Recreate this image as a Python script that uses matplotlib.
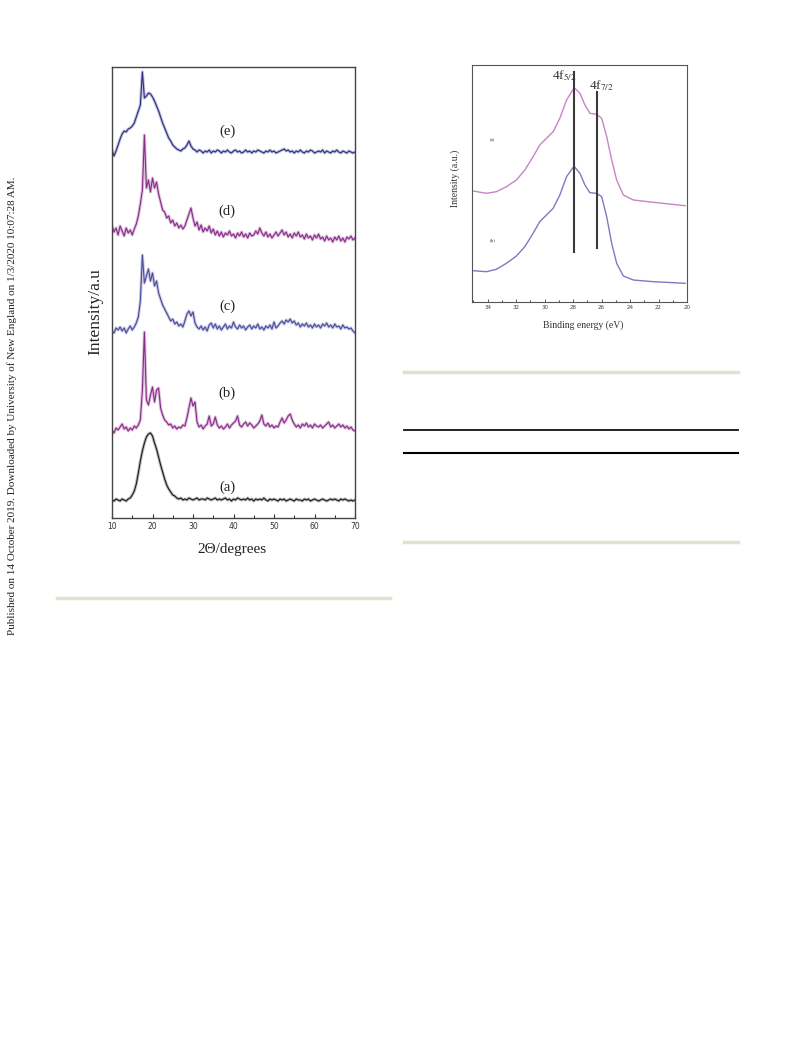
import numpy as np
import matplotlib
matplotlib.use("Agg")
import matplotlib.pyplot as plt
from matplotlib.ticker import MultipleLocator

W, H = 793, 1039

# ---- XRD patterns (2 theta, intensity above each trace's own baseline) ----
two_theta = np.arange(10, 70.5, 0.5)

xrd_a = [1, 0, 2, 1, 0, 2, 1, 0, 2, 3, 6, 10, 17, 28, 40, 50, 58, 64, 67, 68,
         65, 58, 52, 44, 36, 29, 22, 16, 12, 9, 6, 5, 3, 2, 3, 1, 2, 1, 3, 2,
         1, 2, 3, 1, 2, 2, 1, 3, 2, 1, 2, 3, 1, 2, 1, 2, 3, 1, 2, 0, 2, 1, 3, 2,
         1, 2, 1, 3, 1, 2, 0, 2, 1, 2, 1, 3, 1, 0, 2, 1, 2, 1, 0, 2, 1, 2, 0, 1,
         2, 1, 0, 2, 1, 1, 0, 2, 1, 2, 0, 1, 2, 1, 0, 1, 2, 1, 0, 1, 2, 1, 2, 1,
         0, 2, 1, 2, 1, 0, 1, 0, 1]

xrd_b = [0, -3, 2, 0, 3, 6, 1, 3, -1, 2, 0, 4, 2, 5, 10, 40, 98, 30, 25, 35,
         43, 28, 40, 42, 22, 15, 10, 8, 5, 6, 2, 4, 1, 3, 2, 5, 4, 12, 22, 32,
         24, 28, 8, 3, 5, 1, 4, 6, 14, 4, 6, 13, 5, 2, 4, 1, 3, 6, 2, 5, 7, 9,
         14, 5, 3, 6, 8, 4, 7, 5, 2, 4, 6, 9, 15, 6, 4, 7, 3, 5, 2, 4, 3, 8, 12,
         7, 10, 14, 16, 10, 6, 3, 5, 2, 6, 4, 7, 3, 5, 2, 6, 4, 3, 5, 2, 4, 6, 8,
         3, 5, 2, 4, 6, 3, 5, 2, 4, 1, 3, 0, -1]

xrd_c = [0, -2, 3, 1, 4, 0, 3, -2, 2, 5, 1, 4, 8, 14, 30, 76, 48, 55, 62, 50,
         58, 45, 50, 38, 32, 26, 22, 18, 14, 10, 12, 7, 9, 5, 7, 4, 10, 17, 20,
         15, 19, 8, 4, 2, 5, 1, 4, 0, 6, 8, 3, 7, 2, 5, 1, 4, 7, 2, 5, 3, 9, 4,
         2, 6, 3, 5, 1, 4, 6, 2, 5, 3, 7, 2, 4, 1, 5, 3, 6, 2, 9, 3, 5, 8, 10, 7,
         11, 9, 12, 8, 10, 6, 8, 4, 7, 5, 8, 4, 6, 3, 7, 4, 6, 3, 7, 5, 8, 4, 6,
         3, 7, 4, 5, 2, 6, 3, 4, 2, 3, 0, -2]

xrd_d = [14, 8, 12, 5, 14, 9, 4, 12, 7, 10, 5, 11, 16, 24, 36, 50, 105, 52, 60,
         48, 62, 52, 58, 46, 38, 30, 28, 22, 24, 17, 20, 14, 17, 12, 15, 11, 14,
         20, 26, 32, 22, 14, 18, 10, 15, 8, 12, 9, 14, 7, 11, 5, 9, 4, 8, 3, 7,
         5, 9, 4, 6, 2, 7, 4, 8, 3, 6, 2, 7, 4, 5, 9, 6, 12, 7, 4, 8, 3, 6, 2, 5,
         8, 4, 7, 10, 5, 8, 3, 6, 2, 7, 4, 8, 3, 5, 1, 6, 2, 4, 0, 5, 2, 6, 1, 3,
         -1, 4, 0, 2, -2, 3, 0, 4, -1, 2, -2, 3, 1, 4, 0, 2]

xrd_e = [3, -3, 2, 8, 14, 19, 22, 21, 24, 25, 27, 30, 36, 42, 48, 81, 55, 57,
         60, 59, 56, 52, 47, 42, 36, 30, 25, 20, 15, 12, 8, 6, 4, 3, 2, 4, 5, 8,
         12, 7, 4, 3, 1, 3, 2, 0, 2, 1, 3, 0, 2, 1, 3, 2, 0, 2, 1, 3, 1, 0, 2, 3,
         1, 2, 0, 1, 3, 1, 2, 0, 2, 1, 3, 2, 1, 0, 2, 1, 3, 1, 2, 0, 1, 2, 3, 4,
         2, 3, 1, 2, 0, 2, 1, 3, 1, 0, 2, 1, 3, 2, 0, 1, 2, 1, 3, 0, 2, 1, 0, 2,
         1, 3, 1, 0, 2, 1, 0, 2, 1, 0, 1]

xrd_series = [xrd_a, xrd_b, xrd_c, xrd_d, xrd_e]
xrd_labels = ["(a)", "(b)", "(c)", "(d)", "(e)"]
xrd_colors = ["#1c1c1c", "#8a2a8a", "#4a4a9e", "#8a2a8a", "#2d2d84"]
xrd_offsets = [17, 88, 187, 278, 365]

# ---- XPS spectra (binding energy, intensity) ----
be_a = [35.03, 34.09, 33.39, 32.68, 31.98, 31.39, 30.81, 30.34, 29.87, 29.4,
        28.93, 28.46, 27.99, 27.87, 27.52, 27.17, 26.82, 26.35, 25.99, 25.64,
        25.29, 24.94, 24.47, 23.77, 22.36, 20.13]
xps_a = [111, 108.7, 110.3, 115.3, 122, 132, 145.3, 157, 163.7, 170.3,
         183.7, 202, 212.7, 213.7, 208.7, 197, 188.7, 187.7, 183.7, 165.3,
         142, 122, 107, 102, 99.7, 96.3]
be_b = be_a
xps_b = [31.3, 30.3, 32.7, 38.7, 46, 55.3, 68.7, 80.3, 87, 93.7,
         107, 125.3, 134.7, 134.7, 128.7, 117, 109.3, 108.7, 105.3, 85.3,
         58.7, 38.7, 26, 22, 20.3, 18.7]
peak_lines = [27.94, 26.30]
peak_names = ["4f$_{5/2}$", "4f$_{7/2}$"]

caption = ("Published on 14 October 2019. Downloaded by University of New "
           "England on 1/3/2020 10:07:28 AM.")

SERIF = ["Liberation Serif", "DejaVu Serif"]
plt.rcParams["mathtext.fontset"] = "stix"


def fx(px):
    return px / W


def fy(py):
    return 1 - py / H


fig = plt.figure(figsize=(W / 100, H / 100), dpi=100)

# left panel: XRD
ax1 = fig.add_axes([fx(112), fy(518), fx(355) - fx(112), fy(67) - fy(518)])
for vals, off, col in zip(xrd_series, xrd_offsets, xrd_colors):
    y = np.array(vals) + off
    ax1.plot(two_theta, y, color=col, lw=2.2, alpha=0.3)
    ax1.plot(two_theta, y, color=col, lw=0.8)
ax1.set_xlim(10, 70)
ax1.set_ylim(0, 451)
ax1.set_yticks([])
ax1.xaxis.set_major_locator(MultipleLocator(10))
ax1.xaxis.set_minor_locator(MultipleLocator(5))
ax1.tick_params(axis="x", which="major", direction="in", length=3,
                width=0.8, labelsize=5.5, pad=3, colors="#333333")
ax1.tick_params(axis="x", which="minor", direction="in", length=2, width=0.6)
for s in ax1.spines.values():
    s.set_color("#444444")
    s.set_linewidth(1.0)

label_py = [487, 393, 306, 211, 131]
for lab, py in zip(xrd_labels, label_py):
    fig.text(fx(227), fy(py), lab, ha="center", va="center",
             fontsize=10.5, family=SERIF, color="#222222")
fig.text(fx(232), fy(550), "2\u0398/degrees", ha="center", va="center",
         fontsize=11, family=SERIF, color="#222222")
fig.text(fx(95), fy(312), "Intensity/a.u", ha="center", va="center",
         rotation=90, fontsize=12.5, family=SERIF, color="#222222")

# right panel: XPS
ax2 = fig.add_axes([fx(472), fy(302), fx(687) - fx(472), fy(65) - fy(302)])
ax2.plot(be_a, xps_a, color="#c685c6", lw=1.0)
ax2.plot(be_b, xps_b, color="#7f78c4", lw=1.0)
line_tops = [230.3, 210.3]
line_bottoms = [50.3, 53.7]
for xv, top, bot in zip(peak_lines, line_tops, line_bottoms):
    ax2.plot([xv, xv], [bot, top], color="#3a3a3a", lw=1.5)
ax2.set_xlim(35.1, 20)
ax2.set_ylim(0, 237)
ax2.set_yticks([])
ax2.xaxis.set_major_locator(MultipleLocator(2))
ax2.xaxis.set_minor_locator(MultipleLocator(1))
ax2.tick_params(axis="x", which="major", direction="in", length=2.5,
                width=0.6, labelsize=4, pad=2, colors="#444444")
ax2.tick_params(axis="x", which="minor", direction="in", length=1.5, width=0.5)
for s in ax2.spines.values():
    s.set_color("#555555")
    s.set_linewidth(0.8)

fig.text(fx(564), fy(76), peak_names[0], ha="center", va="center",
         fontsize=9.5, family=SERIF, color="#333333")
fig.text(fx(601), fy(86), peak_names[1], ha="center", va="center",
         fontsize=9.5, family=SERIF, color="#333333")
fig.text(fx(492), fy(140), "(a)", ha="center", va="center",
         fontsize=3.5, family=SERIF, color="#333333")
fig.text(fx(493), fy(240), "(b)", ha="center", va="center",
         fontsize=3.5, family=SERIF, color="#333333")
fig.text(fx(583), fy(325), "Binding energy (eV)", ha="center", va="center",
         fontsize=7, family=SERIF, color="#333333")
fig.text(fx(455), fy(178), "Intensity (a.u.)", ha="center", va="center",
         rotation=90, fontsize=7, family=SERIF, color="#333333")

# page rules
rule = "#e2e0cf"
fig.add_artist(plt.Line2D([fx(57), fx(390)], [fy(598), fy(598)],
                          color=rule, lw=2.5))
fig.add_artist(plt.Line2D([fx(404), fx(738)], [fy(372), fy(372)],
                          color=rule, lw=2.5))
fig.add_artist(plt.Line2D([fx(404), fx(738)], [fy(542), fy(542)],
                          color=rule, lw=2.5))
fig.add_artist(plt.Line2D([fx(404), fx(738)], [fy(429.5), fy(429.5)],
                          color="#111111", lw=1.3))
fig.add_artist(plt.Line2D([fx(404), fx(738)], [fy(452.5), fy(452.5)],
                          color="#000000", lw=1.5))

fig.text(fx(12), fy(406), caption, ha="center", va="center", rotation=90,
         fontsize=8, family=SERIF, color="#222222")

fig.savefig("out.png", dpi=100)
